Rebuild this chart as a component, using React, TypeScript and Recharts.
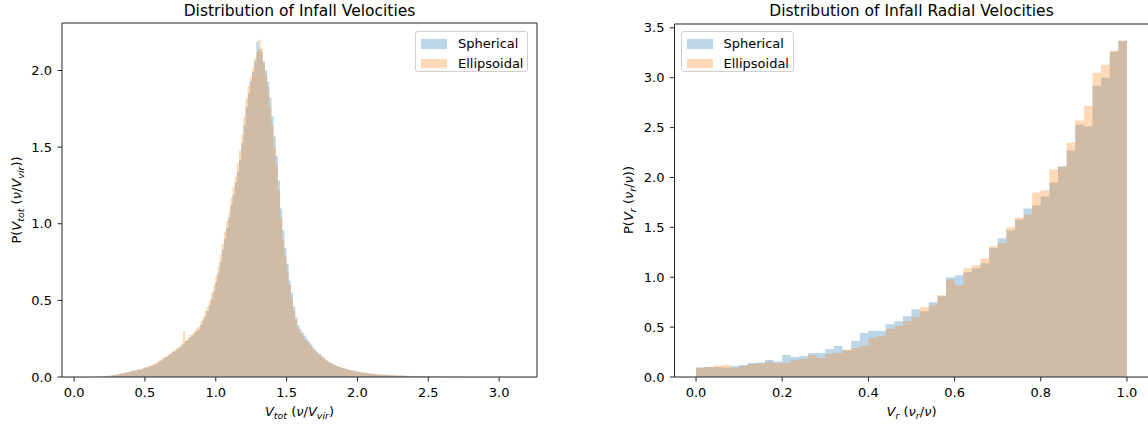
import { ComposedChart, Area, XAxis, YAxis } from "recharts"

const FONT = '"DejaVu Sans", sans-serif'
const BLUE = "#1f77b4"
const ORANGE = "#ff7f0e"
const INK = "#222"

const SERIES_NAMES = ["Spherical", "Ellipsoidal"]

// total velocity histogram: 200 bins over the data range
const TOT_RANGE = [0.067, 3.115]
const TOT_BINS = 200
const TOT_X_TICKS = [0, 0.5, 1, 1.5, 2, 2.5, 3]
const TOT_Y_TICKS = [0, 0.5, 1, 1.5, 2]

const SPH_TOT = [
  0, 0, 0, 0, 0.002, 0, 0.003, 0.002, 0.005, 0.004,
  0.008, 0.007, 0.01, 0.012, 0.014, 0.018, 0.017, 0.022, 0.026, 0.028,
  0.033, 0.035, 0.04, 0.038, 0.045, 0.05, 0.048, 0.055, 0.06, 0.062,
  0.07, 0.072, 0.078, 0.085, 0.095, 0.105, 0.11, 0.125, 0.13, 0.14,
  0.15, 0.165, 0.17, 0.185, 0.19, 0.205, 0.22, 0.235, 0.245, 0.26,
  0.265, 0.285, 0.3, 0.31, 0.34, 0.37, 0.4, 0.43, 0.47, 0.51,
  0.56, 0.62, 0.68, 0.75, 0.83, 0.9, 0.97, 1.04, 1.12, 1.19,
  1.27, 1.34, 1.42, 1.53, 1.64, 1.76, 1.85, 1.93, 1.99, 2.06,
  2.19, 2.14, 2.12, 2.06, 2.0, 1.93, 1.82, 1.7, 1.57, 1.44,
  1.28, 1.1, 0.96, 0.84, 0.74, 0.63, 0.55, 0.46, 0.39, 0.34,
  0.31, 0.29, 0.27, 0.25, 0.23, 0.21, 0.19, 0.175, 0.16, 0.15,
  0.135, 0.125, 0.11, 0.1, 0.092, 0.085, 0.078, 0.072, 0.067, 0.062,
  0.058, 0.054, 0.05, 0.047, 0.042, 0.04, 0.036, 0.033, 0.03, 0.029,
  0.026, 0.025, 0.022, 0.021, 0.02, 0.018, 0.017, 0.016, 0.015, 0.014,
  0.013, 0.012, 0.011, 0.011, 0.01, 0.009, 0.009, 0.008, 0.008, 0.007,
  0.007, 0.006, 0.006, 0.005, 0.005, 0.005, 0.004, 0.004, 0.004, 0.003,
  0.003, 0.002, 0.002, 0.001, 0.001, 0.001, 0, 0.001, 0, 0,
  0, 0, 0, 0, 0, 0, 0, 0, 0, 0,
  0, 0, 0, 0, 0, 0, 0, 0, 0, 0,
  0, 0, 0, 0, 0, 0, 0, 0, 0, 0,
]

const ELL_TOT = [
  0, 0, 0, 0, 0, 0, 0, 0, 0, 0.004,
  0.006, 0.008, 0.009, 0.011, 0.013, 0.016, 0.019, 0.02, 0.024, 0.027,
  0.03, 0.034, 0.037, 0.042, 0.044, 0.048, 0.053, 0.056, 0.062, 0.066,
  0.072, 0.076, 0.085, 0.09, 0.1, 0.11, 0.12, 0.13, 0.135, 0.148,
  0.155, 0.17, 0.18, 0.19, 0.2, 0.215, 0.3, 0.24, 0.255, 0.275,
  0.28, 0.3, 0.32, 0.33, 0.36, 0.39, 0.43, 0.46, 0.5, 0.55,
  0.6, 0.66, 0.72, 0.8, 0.87, 0.95, 1.02, 1.08, 1.17, 1.24,
  1.31, 1.4, 1.48, 1.58, 1.7, 1.82, 1.9, 1.96, 2.02, 2.08,
  2.12, 2.2, 2.15, 2.05, 1.97, 1.88, 1.76, 1.64, 1.5, 1.38,
  1.22, 1.04, 0.9, 0.79, 0.69, 0.6, 0.51, 0.43, 0.37, 0.32,
  0.29, 0.27, 0.25, 0.235, 0.22, 0.2, 0.18, 0.17, 0.155, 0.145,
  0.13, 0.12, 0.108, 0.098, 0.09, 0.084, 0.077, 0.071, 0.066, 0.062,
  0.058, 0.052, 0.048, 0.045, 0.042, 0.039, 0.035, 0.034, 0.031, 0.03,
  0.027, 0.026, 0.024, 0.022, 0.021, 0.02, 0.018, 0.017, 0.016, 0.015,
  0.014, 0.013, 0.013, 0.012, 0.011, 0.01, 0.01, 0.009, 0.009, 0.008,
  0.008, 0.007, 0.007, 0.006, 0.006, 0.006, 0.005, 0.005, 0.005, 0.004,
  0.004, 0.004, 0.003, 0.003, 0.003, 0.003, 0.002, 0.002, 0.002, 0.002,
  0.002, 0.001, 0.002, 0.001, 0.001, 0, 0, 0, 0, 0,
  0, 0, 0, 0, 0, 0, 0, 0, 0, 0,
  0, 0, 0, 0, 0, 0, 0, 0, 0, 0,
]

// radial velocity histogram: 50 bins over [0, 1]
const RAD_RANGE = [0, 1]
const RAD_BINS = 50
const RAD_X_TICKS = [0, 0.2, 0.4, 0.6, 0.8, 1]
const RAD_Y_TICKS = [0, 0.5, 1, 1.5, 2, 2.5, 3, 3.5]

const SPH_RAD = [
  0.095, 0.1, 0.1, 0.095, 0.11, 0.12, 0.14, 0.145, 0.17, 0.155,
  0.22, 0.2, 0.21, 0.24, 0.24, 0.28, 0.31, 0.27, 0.36, 0.44,
  0.46, 0.46, 0.53, 0.56, 0.61, 0.68, 0.66, 0.75, 0.81, 1.0,
  1.02, 1.05, 1.09, 1.14, 1.29, 1.39, 1.47, 1.58, 1.69, 1.72,
  1.81, 1.95, 2.11, 2.27, 2.53, 2.51, 2.92, 3.0, 3.26, 3.37,
]

const ELL_RAD = [
  0.095, 0.1, 0.115, 0.12, 0.095, 0.11, 0.13, 0.135, 0.15, 0.14,
  0.14, 0.17, 0.18, 0.22, 0.19, 0.23, 0.24, 0.27, 0.29, 0.31,
  0.39, 0.41, 0.48, 0.51, 0.56, 0.6, 0.7, 0.72, 0.82, 0.98,
  0.92, 1.09, 1.12, 1.19, 1.31, 1.34, 1.5, 1.6, 1.63, 1.85,
  1.87, 2.08, 2.11, 2.35, 2.57, 2.72, 3.05, 3.13, 3.27, 3.37,
]

type Row = { x: number; sph: number; ell: number }

// one row per bin edge; the last edge repeats the last bin so the step closes
function histRows(range: number[], bins: number, sph: number[], ell: number[]): Row[] {
  const [lo, hi] = range
  const rows: Row[] = []
  for (let i = 0; i <= bins; i++) {
    const k = Math.min(i, bins - 1)
    rows.push({ x: lo + ((hi - lo) * i) / bins, sph: sph[k], ell: ell[k] })
  }
  return rows
}

// matplotlib-style autoscale: 5% x margins, 5% headroom on y
function xLimits(range: number[]): [number, number] {
  const pad = (range[1] - range[0]) * 0.05
  return [range[0] - pad, range[1] + pad]
}

function yLimit(a: number[], b: number[]): [number, number] {
  return [0, Math.max(...a, ...b) * 1.05]
}

const fmt = (v: number) => v.toFixed(1)

const tickStyle = { fill: "#000", fontSize: 13, fontFamily: FONT }

interface HistProps {
  rows: Row[]
  xDomain: [number, number]
  yDomain: [number, number]
  xTicks: number[]
  yTicks: number[]
  width: number
  yAxisWidth: number
  top: number
  right: number
}

function Hist({ rows, xDomain, yDomain, xTicks, yTicks, width, yAxisWidth, top, right }: HistProps) {
  return (
    <ComposedChart
      width={width}
      height={427}
      data={rows}
      margin={{ top, right, bottom: 0, left: 0 }}
    >
      <XAxis
        dataKey="x"
        type="number"
        domain={xDomain}
        ticks={xTicks}
        interval={0}
        allowDataOverflow
        tickFormatter={fmt}
        tick={tickStyle}
        tickSize={4.5}
        tickMargin={6}
        height={50}
        stroke={INK}
      />
      <XAxis
        xAxisId="frame"
        orientation="top"
        type="number"
        domain={xDomain}
        allowDataOverflow
        tick={false}
        tickLine={false}
        height={1}
        stroke={INK}
      />
      <YAxis
        type="number"
        domain={yDomain}
        ticks={yTicks}
        interval={0}
        allowDataOverflow
        tickFormatter={fmt}
        tick={tickStyle}
        tickSize={4.5}
        tickMargin={5.5}
        width={yAxisWidth}
        stroke={INK}
      />
      <YAxis
        yAxisId="frame"
        orientation="right"
        type="number"
        domain={yDomain}
        allowDataOverflow
        tick={false}
        tickLine={false}
        width={1}
        stroke={INK}
      />
      <Area
        type="stepAfter"
        dataKey="sph"
        name={SERIES_NAMES[0]}
        stroke="none"
        fill={BLUE}
        fillOpacity={0.3}
        dot={false}
        activeDot={false}
        isAnimationActive={false}
      />
      <Area
        type="stepAfter"
        dataKey="ell"
        name={SERIES_NAMES[1]}
        stroke="none"
        fill={ORANGE}
        fillOpacity={0.3}
        dot={false}
        activeDot={false}
        isAnimationActive={false}
      />
    </ComposedChart>
  )
}

type Seg = { t: string; it?: boolean; sub?: boolean }

// mathtext-ish label: italic symbols, smaller lowered subscripts
function MathText({ segs, x, y, rotate }: { segs: Seg[]; x: number; y: number; rotate?: boolean }) {
  let low = false
  return (
    <text
      x={x}
      y={y}
      textAnchor="middle"
      fontSize={13}
      fontFamily={FONT}
      fill="#000"
      transform={rotate ? `rotate(-90, ${x}, ${y})` : undefined}
    >
      {segs.map((s, i) => {
        const want = !!s.sub
        const dy = want === low ? 0 : want ? 3 : -3
        low = want
        return (
          <tspan key={i} dy={dy} fontStyle={s.it ? "italic" : "normal"} fontSize={s.sub ? 9.5 : 13}>
            {s.t}
          </tspan>
        )
      })}
    </text>
  )
}

const TOT_X_LABEL: Seg[] = [
  { t: "V", it: true }, { t: "tot", it: true, sub: true }, { t: " (" }, { t: "ν", it: true },
  { t: "/" }, { t: "V", it: true }, { t: "vir", it: true, sub: true }, { t: ")" },
]
const TOT_Y_LABEL: Seg[] = [{ t: "P(" }, ...TOT_X_LABEL, { t: ")" }]
const RAD_X_LABEL: Seg[] = [
  { t: "V", it: true }, { t: "r", it: true, sub: true }, { t: " (" }, { t: "ν", it: true },
  { t: "r", it: true, sub: true }, { t: "/" }, { t: "ν", it: true }, { t: ")" },
]
const RAD_Y_LABEL: Seg[] = [{ t: "P(" }, ...RAD_X_LABEL, { t: ")" }]

function LegendBox({ left }: { left: number }) {
  const colors = [BLUE, ORANGE]
  return (
    <div
      style={{
        position: "absolute",
        left,
        top: 31,
        width: 113,
        height: 41,
        border: "1px solid #d0d0d0",
        borderRadius: 3,
        background: "rgba(255,255,255,0.8)",
        fontFamily: FONT,
        fontSize: 13,
        color: "#000",
        padding: "2px 0 0 5px",
        boxSizing: "border-box",
      }}
    >
      {SERIES_NAMES.map((name, i) => (
        <div key={name} style={{ display: "flex", alignItems: "center", height: 19.5 }}>
          <span
            style={{
              display: "inline-block",
              width: 26,
              height: 9.5,
              background: colors[i],
              opacity: 0.3,
              marginRight: 11,
            }}
          />
          <span>{name}</span>
        </div>
      ))}
    </div>
  )
}

export default function App() {
  const totRows = histRows(TOT_RANGE, TOT_BINS, SPH_TOT, ELL_TOT)
  const radRows = histRows(RAD_RANGE, RAD_BINS, SPH_RAD, ELL_RAD)

  return (
    <div
      style={{
        position: "absolute",
        left: 0,
        top: 0,
        width: 1148,
        height: 427,
        overflow: "hidden",
        background: "#fff",
      }}
    >
      <div style={{ position: "absolute", left: 0, top: 0 }}>
        <Hist
          rows={totRows}
          xDomain={xLimits(TOT_RANGE)}
          yDomain={yLimit(SPH_TOT, ELL_TOT)}
          xTicks={TOT_X_TICKS}
          yTicks={TOT_Y_TICKS}
          width={560}
          yAxisWidth={62}
          top={22}
          right={22}
        />
      </div>
      <div style={{ position: "absolute", left: 560, top: 0 }}>
        <Hist
          rows={radRows}
          xDomain={xLimits(RAD_RANGE)}
          yDomain={yLimit(SPH_RAD, ELL_RAD)}
          xTicks={RAD_X_TICKS}
          yTicks={RAD_Y_TICKS}
          width={600}
          yAxisWidth={114.5}
          top={23}
          right={10.5}
        />
      </div>
      <svg
        width={1148}
        height={427}
        style={{ position: "absolute", left: 0, top: 0, pointerEvents: "none" }}
      >
        <text x={299.5} y={15.5} textAnchor="middle" fontSize={15.5} fontFamily={FONT} fill="#000">
          Distribution of Infall Velocities
        </text>
        <text x={911.5} y={15.5} textAnchor="middle" fontSize={15.5} fontFamily={FONT} fill="#000">
          Distribution of Infall Radial Velocities
        </text>
        <MathText segs={TOT_X_LABEL} x={299.5} y={416} />
        <MathText segs={RAD_X_LABEL} x={911.5} y={416} />
        <MathText segs={TOT_Y_LABEL} x={20.5} y={200} rotate />
        <MathText segs={RAD_Y_LABEL} x={633} y={200} rotate />
      </svg>
      <LegendBox left={415} />
      <LegendBox left={680.5} />
    </div>
  )
}
